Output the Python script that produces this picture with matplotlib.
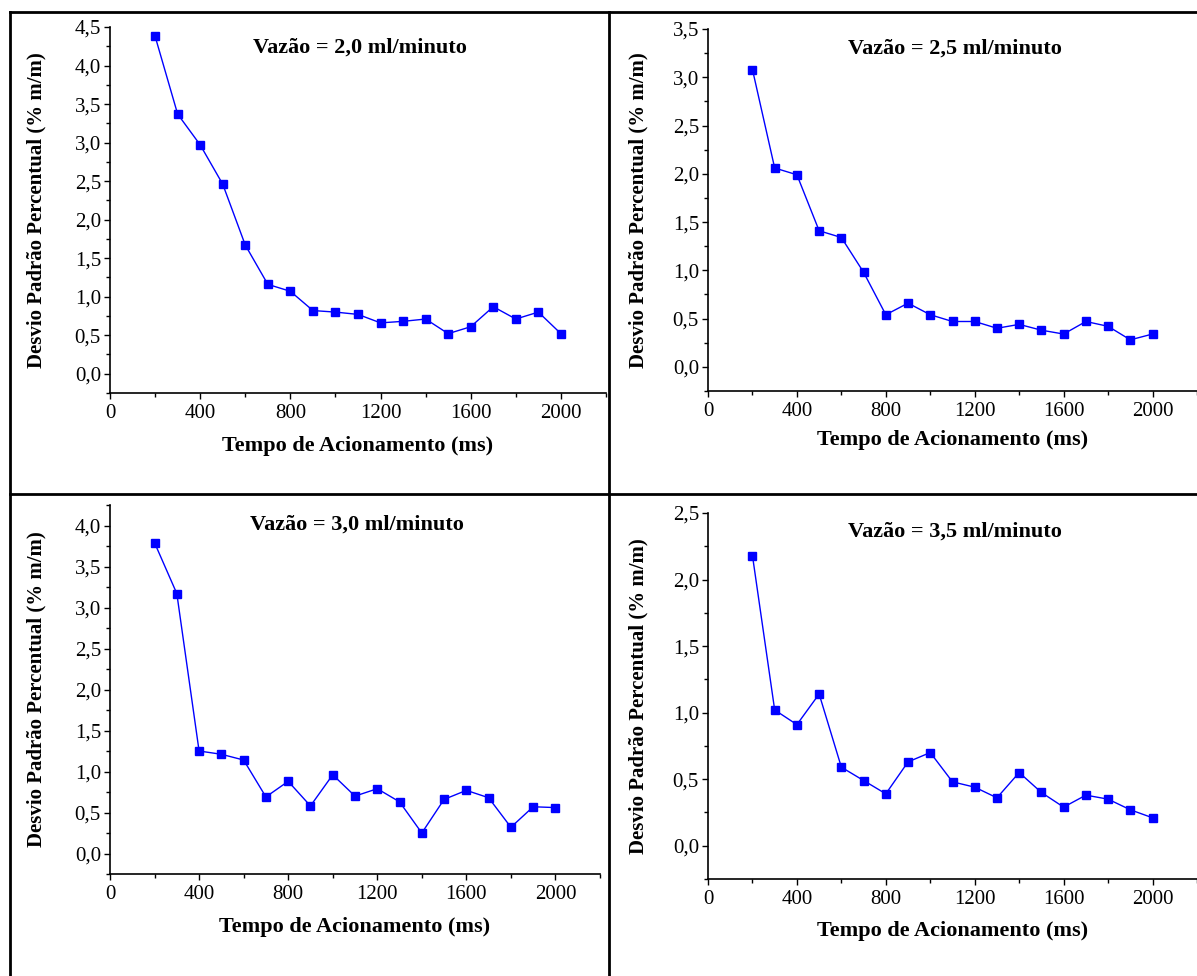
import numpy as np
import matplotlib
matplotlib.use("Agg")
from matplotlib import pyplot as plt
from matplotlib.lines import Line2D
from matplotlib.ticker import MultipleLocator, FuncFormatter

# Tempo de acionamento (ms)
tempo = [200, 300, 400, 500, 600, 700, 800, 900, 1000, 1100,
         1200, 1300, 1400, 1500, 1600, 1700, 1800, 1900, 2000]

# Desvio padrao percentual (% m/m) for each flow rate
desvio_20 = [4.38, 3.37, 2.97, 2.46, 1.67, 1.16, 1.07, 0.82, 0.80, 0.77,
             0.66, 0.68, 0.71, 0.52, 0.61, 0.87, 0.71, 0.80, 0.52]
desvio_25 = [3.08, 2.06, 1.99, 1.41, 1.34, 0.98, 0.54, 0.66, 0.54, 0.47,
             0.47, 0.40, 0.44, 0.38, 0.34, 0.47, 0.42, 0.28, 0.34]
desvio_30 = [3.79, 3.17, 1.25, 1.21, 1.14, 0.69, 0.88, 0.58, 0.96, 0.70,
             0.79, 0.63, 0.25, 0.66, 0.77, 0.68, 0.32, 0.57, 0.56]
desvio_35 = [2.18, 1.02, 0.91, 1.14, 0.59, 0.49, 0.39, 0.63, 0.70, 0.48,
             0.44, 0.36, 0.55, 0.40, 0.29, 0.38, 0.35, 0.27, 0.21]

titles = ["Vazão = 2,0 ml/minuto", "Vazão = 2,5 ml/minuto",
          "Vazão = 3,0 ml/minuto", "Vazão = 3,5 ml/minuto"]
y_tops = [4.5, 3.5, 4.25, 2.5]

xlabel = "Tempo de Acionamento (ms)"
ylabel = "Desvio Padrão Percentual (% m/m)"

W, H = 1197, 976
plt.rcParams['font.family'] = ['Liberation Serif', 'DejaVu Serif']


def px_box(left, top, right, bottom):
    """Convert a pixel box (origin top-left) to figure fractions."""
    return [left / W, 1 - bottom / H, (right - left) / W, (bottom - top) / H]


def draw_panel(fig, box, y, title, ytop, title_xy, ylab_x, xlab_y):
    """Draw one Origin-style panel."""
    left, top, right, bottom = box
    ax = fig.add_axes(px_box(left, top, right, bottom))
    ax.plot(tempo, y, color='#0000ff', linewidth=1.0, marker='s',
            markersize=5.5, markerfacecolor='#0000ff', markeredgecolor='#0000ff')

    ax.set_xlim(0, 2200)
    ax.set_ylim(-0.25, ytop)
    ax.xaxis.set_major_locator(MultipleLocator(400))
    ax.xaxis.set_minor_locator(MultipleLocator(200))
    ax.yaxis.set_major_locator(MultipleLocator(0.5))
    ax.yaxis.set_minor_locator(MultipleLocator(0.25))
    ax.yaxis.set_major_formatter(FuncFormatter(lambda v, p: f"{v:.1f}".replace('.', ',')))

    for side in ['top', 'right']:
        ax.spines[side].set_visible(False)
    for side in ['left', 'bottom']:
        ax.spines[side].set_linewidth(1.2)
    ax.tick_params(which='major', direction='out', length=4.5, width=1.0, labelsize=15)
    ax.tick_params(which='minor', direction='out', length=2.8, width=1.0)
    ax.tick_params(axis='y', pad=2)

    ax.set_xlabel(xlabel, fontsize=16, fontweight='bold', va='center')
    ax.xaxis.set_label_coords(0.5, xlab_y)
    ax.set_ylabel(ylabel, fontsize=15, fontweight='bold', va='center')
    ax.yaxis.set_label_coords(ylab_x, 0.5)

    ax.text(title_xy[0], title_xy[1], title, transform=ax.transAxes,
            ha='center', va='center', fontsize=16, fontweight='bold')
    return ax


fig = plt.figure(figsize=(W / 100, H / 100), dpi=100)

# table borders around the four panels
border = dict(color='black', linewidth=2.0)
fig.add_artist(Line2D([10 / W, 1], [1 - 12 / H, 1 - 12 / H], **border))
fig.add_artist(Line2D([10 / W, 1], [1 - 494 / H, 1 - 494 / H], **border))
fig.add_artist(Line2D([10 / W, 10 / W], [0, 1 - 12 / H], **border))
fig.add_artist(Line2D([609 / W, 609 / W], [0, 1 - 12 / H], **border))

draw_panel(fig, (110, 27, 606, 393), desvio_20, titles[0], y_tops[0],
           (0.504, 0.945), (36 - 110) / 496, -53 / 366)
draw_panel(fig, (708, 29, 1197, 391), desvio_25, titles[1], y_tops[1],
           (0.505, 0.947), (638 - 708) / 489, -49 / 362)
draw_panel(fig, (110, 505, 600, 874), desvio_30, titles[2], y_tops[2],
           (0.504, 0.946), (36 - 110) / 490, -53 / 369)
draw_panel(fig, (708, 513, 1197, 879), desvio_35, titles[3], y_tops[3],
           (0.505, 0.949), (638 - 708) / 489, -52 / 366)

fig.savefig("out.png", dpi=100)
